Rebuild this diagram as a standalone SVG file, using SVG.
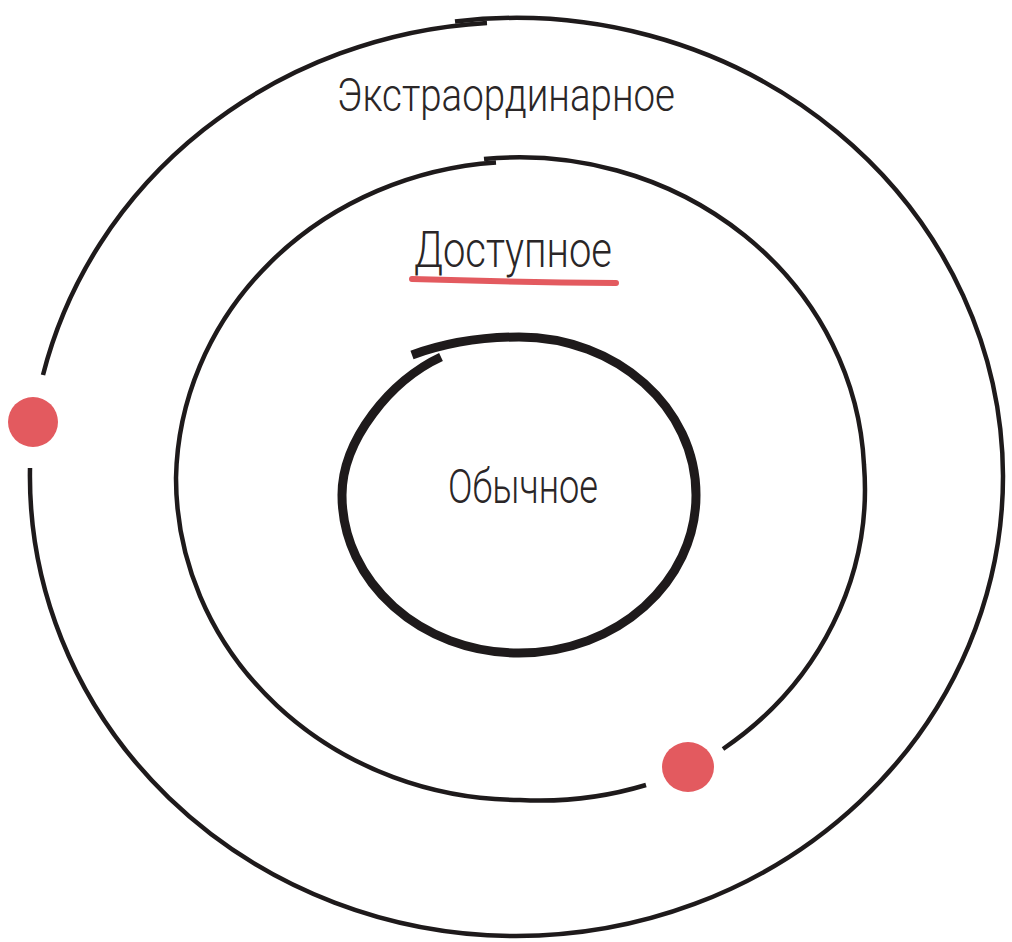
<svg xmlns="http://www.w3.org/2000/svg" width="1012" height="942" viewBox="0 0 1012 942">
<style>
.ring{fill:none;stroke:#1e1a1b;stroke-linecap:butt;stroke-linejoin:round}
.lbl{font-family:"Roboto","Open Sans","DejaVu Sans Condensed",sans-serif;fill:#2a2627;font-weight:300}
.dot{fill:#e35a5f}
</style>
<rect width="1012" height="942" fill="#ffffff"/>
<g id="outer-ring">
<path class="ring" stroke-width="4.5" d="M 455 21.5 A 487 460 0 0 1 1003 476 A 487 460 0 0 1 515 936 A 487 460 0 0 1 30 468"/>
<path class="ring" stroke-width="4.5" d="M 43 375 A 487 460 0 0 1 487 23"/>
</g>
<g id="middle-ring">
<path class="ring" stroke-width="4.5" d="M 484 159 A 345 322 0 0 1 864 465 A 345 322 0 0 1 723 749"/>
<path class="ring" stroke-width="4.5" d="M 646 785 A 345 322 0 0 1 520 800 A 345 322 0 0 1 176 478 A 345 322 0 0 1 496 162.5"/>
</g>
<g id="inner-ring">
<path class="ring" stroke-width="9" d="M 412 355 C 445 343 480 337 519 337 C 616.8 337 696 407.7 696 495 C 696 582.3 616.8 653 519 653 C 421.2 653 342 582.3 342 495 C 342 440 391 380 441 357"/>
</g>
<g id="dot-outer">
<ellipse class="dot" cx="33" cy="422" rx="25" ry="25"/>
</g>
<g id="dot-middle">
<ellipse class="dot" cx="688" cy="767" rx="26" ry="25"/>
</g>
<g id="label-extra">
<text class="lbl" x="337" y="111" font-size="46" textLength="338" lengthAdjust="spacingAndGlyphs">Экстраординарное</text>
</g>
<g id="label-available">
<text class="lbl" x="414" y="267" font-size="50" textLength="198" lengthAdjust="spacingAndGlyphs">Доступное</text>
<path d="M 412 279 Q 510 282 616 283" fill="none" stroke="#e35a5f" stroke-width="6" stroke-linecap="round"/>
</g>
<g id="label-ordinary">
<text class="lbl" x="448" y="503" font-size="48" textLength="150" lengthAdjust="spacingAndGlyphs">Обычное</text>
</g>
</svg>
